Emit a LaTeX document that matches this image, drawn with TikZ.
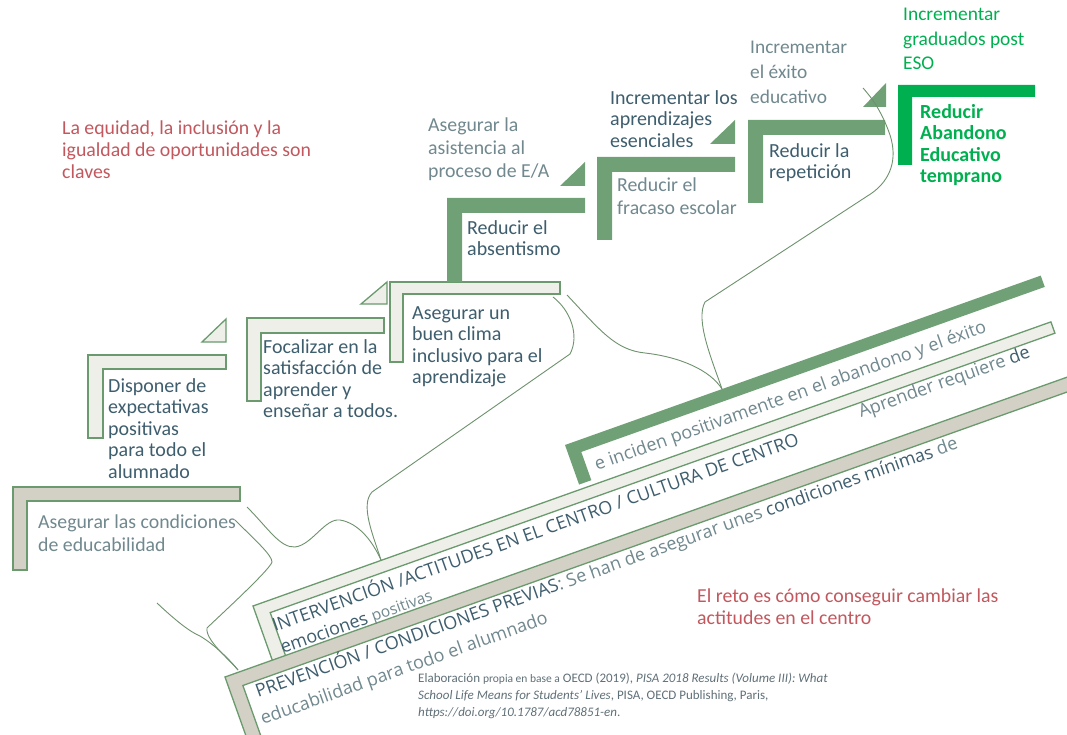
\documentclass[tikz,border=0pt]{standalone}
\usepackage{fontspec}
\setmainfont{Carlito}
\newfontfamily\slantfont{Open Sans}
\definecolor{midgreen}{RGB}{112,160,117}
\definecolor{edgegreen}{RGB}{106,154,110}
\definecolor{brightgreen}{RGB}{0,176,80}
\definecolor{lightfill}{RGB}{239,239,233}
\definecolor{beigefill}{RGB}{211,208,197}
\definecolor{curvegreen}{RGB}{110,145,110}
\definecolor{darktext}{RGB}{62,94,110}
\definecolor{greytext}{RGB}{112,136,142}
\definecolor{redtext}{RGB}{194,88,94}
\definecolor{citetext}{RGB}{96,112,120}

\begin{document}
\begin{tikzpicture}[x=1pt, y=-1pt,
lbar/.style = {fill=lightfill, draw=edgegreen, line width=1.3pt},
bbar/.style = {fill=beigefill, draw=edgegreen, line width=1.3pt},
dbar/.style = {fill=midgreen},
gbar/.style = {fill=brightgreen},
brace/.style = {draw=curvegreen, line width=0.9pt},
txt/.style = {align=left, inner sep=0pt, anchor=north west, font=\fontsize{20}{21.5}\selectfont},
darktxt/.style = {txt, text=darktext},
greytxt/.style = {txt, text=greytext, font=\fontsize{19.8}{23}\selectfont},
redtxt/.style = {txt, text=redtext, font=\fontsize{19.8}{22}\selectfont},
greentxt/.style = {txt, text=brightgreen, font=\fontsize{19.4}{24.5}\selectfont},
citetxt/.style = {txt, text=citetext, font=\fontsize{13}{17}\selectfont},
slant/.style = {rotate=19.6, anchor=base west, inner sep=0pt, text=darktext, font=\slantfont\fontsize{18}{22}\selectfont}]
\fill[white] (0,0) rectangle (1067,735);
\path[use as bounding box] (0,0) rectangle (1067,735);
\clip (0,0) rectangle (1067,735);

% steps
\filldraw[bbar] (13,487) -- (240,487) -- (240,501) -- (27,501) -- (27,570) -- (13,570) -- cycle;
\filldraw[lbar] (88,355) -- (226,355) -- (226,369) -- (103,369) -- (103,438) -- (88,438) -- cycle;
\filldraw[lbar] (202,342) -- (226,342) -- (226,319) -- cycle;
\filldraw[lbar] (247,318) -- (384,318) -- (384,333) -- (261,333) -- (261,401) -- (247,401) -- cycle;
\filldraw[lbar] (361,304) -- (387,304) -- (387,282) -- cycle;
\filldraw[lbar] (390,282) -- (560,282) -- (560,294) -- (403,294) -- (403,362) -- (390,362) -- cycle;
\fill[dbar] (447,198) -- (585,198) -- (585,213) -- (462,213) -- (462,282) -- (447,282) -- cycle;
\fill[dbar] (560,186) -- (585,186) -- (585,162) -- cycle;
\fill[dbar] (597,157) -- (735,157) -- (735,172) -- (612,172) -- (612,240) -- (597,240) -- cycle;
\fill[dbar] (710,144) -- (735,144) -- (735,120) -- cycle;
\fill[dbar] (748,120) -- (885,120) -- (885,135) -- (763,135) -- (763,203) -- (748,203) -- cycle;
\fill[dbar] (863,107) -- (886,107) -- (886,83) -- cycle;
\fill[gbar] (898,85) -- (1035,85) -- (1035,97) -- (912,97) -- (912,165) -- (898,165) -- cycle;

% slanted bars
\begin{scope}[shift={(565,445)}, rotate=19.6]
\fill[dbar] (0,0) -- (505,0) -- (505,12) -- (13,12) -- (13,42) -- (0,42) -- cycle;
\end{scope}
\begin{scope}[shift={(253,606)}, rotate=19.6]
\filldraw[lbar] (0,0) -- (847,0) -- (847,12) -- (14,12) -- (14,60) -- (0,60) -- cycle;
\end{scope}
\begin{scope}[shift={(225,677)}, rotate=19.6]
\filldraw[bbar] (0,0) -- (950,0) -- (950,14) -- (14,14) -- (14,90) -- (0,90) -- cycle;
\end{scope}

% labels
\node[redtxt] at (62,121) (equidad) {La equidad, la inclusión y la\\igualdad de oportunidades son\\claves};
\node[greytxt] at (38,515) (condic) {Asegurar las condiciones\\de educabilidad};
\node[darktxt] at (108,378) (expect) {Disponer de\\expectativas\\positivas\\para todo el\\alumnado};
\node[darktxt] at (263,339) (focal) {Focalizar en la\\satisfacción de\\aprender y\\enseñar a todos.};
\node[darktxt] at (412,306) (clima) {Asegurar un\\buen clima\\inclusivo para el\\aprendizaje};
\node[darktxt] at (467,220) (absent) {Reducir el\\absentismo};
\node[greytxt] at (428,118) (asist) {Asegurar la\\asistencia al\\proceso de E/A};
\node[greytxt] at (617,178) (fracaso) {Reducir el\\fracaso escolar};
\node[darktxt] at (610,90) (aprend) {Incrementar los\\aprendizajes\\esenciales};
\node[darktxt] at (769,143) (repet) {Reducir la\\repetición};
\node[greytxt, font=\fontsize{19.4}{25}\selectfont] at (750,41) (exito) {Incrementar\\el éxito\\educativo};
\node[greentxt] at (903,8) (gradu) {Incrementar\\graduados post\\ESO};
\node[greentxt, font=\bfseries\fontsize{20}{21.5}\selectfont] at (920,104) (abandono) {Reducir\\Abandono\\Educativo\\temprano};
\node[redtxt] at (697,589) (reto) {El reto es cómo conseguir cambiar las\\actitudes en el centro};
\node[citetxt] at (418,673) (cita) {Elaboración {\fontsize{11.5}{17}\selectfont propia  en base a}  OECD (2019), \textit{PISA 2018 Results (Volume III): What}\\\textit{School Life Means for Students’ Lives}, PISA, OECD Publishing, Paris,\\\textit{https://doi.org/10.1787/acd78851-en}.};

% slanted labels
\node[slant] at (275,632) (interv) {INTERVENCIÓN /ACTITUDES EN EL CENTRO / CULTURA DE CENTRO};
\node[slant] at (283,654) (emoc) {emociones {\fontsize{15.5}{18}\selectfont\color{greytext}positivas}};
\node[slant, text=greytext] at (597,471) (incid) {e inciden positivamente en el abandono y el éxito};
\node[slant, text=greytext] at (861,418) (aprender) {Aprender requiere \textcolor{darktext}{de}};
\node[slant] at (258,698) (prev) {PREVENCIÓN / CONDICIONES PREVIAS{\color{greytext}: Se han de  asegurar unes} condiciones mínimas {\color{greytext}de}};
\node[slant, text=greytext] at (263,725) (educ) {educabilidad para  todo el alumnado};

% braces
\coordinate (a1) at (247,507);
\coordinate (atip) at (381,560);
\coordinate (a2) at (553,297);
\coordinate (b1) at (567,295);
\coordinate (btip) at (722,389);
\coordinate (b2) at (863,88);
\coordinate (c1) at (235,520);
\coordinate (ctip) at (238,670);
\coordinate (c2) at (157,603);
\draw[brace] (a1) .. controls (268,528) and (280,548) .. (295,547) .. controls (312,545) and (325,518) .. (340,520) .. controls (358,523) and (372,540) .. (atip);
\draw[brace] (atip) .. controls (373,535) and (360,505) .. (372,492) -- (570,354) .. controls (580,335) and (570,310) .. (a2);
\draw[brace] (b1) .. controls (600,330) and (615,350) .. (645,353) .. controls (680,357) and (710,370) .. (btip);
\draw[brace] (btip) .. controls (712,360) and (695,320) .. (705,302) -- (872,193) .. controls (890,180) and (898,160) .. (890,135) .. controls (882,112) and (872,98) .. (b2);
\draw[brace] (c1) .. controls (255,540) and (272,555) .. (272,562) .. controls (270,570) and (215,620) .. (207,628) .. controls (205,640) and (230,660) .. (ctip);
\draw[brace] (c2) .. controls (175,620) and (190,632) .. (200,636) .. controls (215,645) and (230,660) .. (ctip);
\end{tikzpicture}
\end{document}
